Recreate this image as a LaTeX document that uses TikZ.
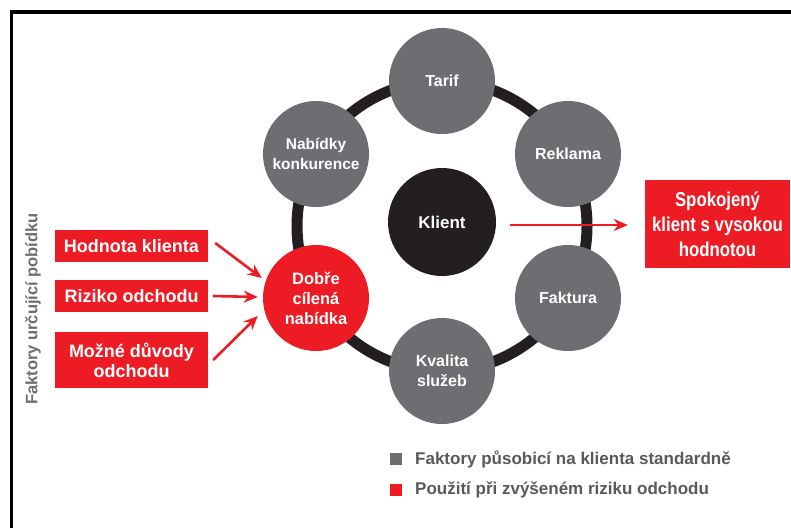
\documentclass[tikz,border=0pt]{standalone}
\usepackage{fontspec}
\setmainfont{Liberation Sans}
\newfontfamily\narrowfont{Liberation Sans}[FakeStretch=0.84]
\usetikzlibrary{arrows.meta}
\definecolor{cgray}{HTML}{6D6E71}
\definecolor{cred}{HTML}{ED1C24}
\definecolor{cblack}{HTML}{231F20}
\definecolor{ctext}{HTML}{58595B}
\tikzset{
  factor/.style={circle, fill=cgray, minimum size=106pt, inner sep=0pt, text=white,
    font=\bfseries\fontsize{16}{20}\selectfont, align=center},
  redbox/.style={rectangle, fill=cred, inner sep=0pt, text=white,
    font=\bfseries\fontsize{18}{20}\selectfont, align=center, minimum width=153pt},
  arr/.style={draw=cred, line width=2.6pt, -{Stealth[length=14pt,width=12pt]}},
  legsq/.style={rectangle, inner sep=0pt, minimum size=12pt},
  legtxt/.style={anchor=west, text=ctext, font=\bfseries\fontsize{17}{18}\selectfont, inner sep=0pt}
}
\begin{document}
\begin{tikzpicture}[x=1pt,y=-1pt]
\useasboundingbox (0,0) rectangle (791,528);
\fill[white] (0,0) rectangle (791,528);
% frame
\draw[line width=3.2pt, black] (11.5,528) -- (11.5,12) -- (791,12);
% ring
\coordinate (rc) at (442,226);
\draw[cblack, line width=11pt] (rc) circle[radius=145];
% circles
\node[factor] (tar) at (442,81) {Tarif};
\node[factor] (rek) at (568,154) {Reklama};
\node[factor] (fak) at (568,298) {Faktura};
\node[factor] (kva) at (442,371) {Kvalita\\služeb};
\node[factor, fill=cred, font=\bfseries\fontsize{16.5}{20}\selectfont] (dob) at (316,298) {Dobře\\cílená\\nabídka};
\node[factor, font=\bfseries\fontsize{15.5}{20}\selectfont] (nab) at (316,154) {Nabídky\\konkurence};
\node[factor, fill=cblack, minimum size=108pt, font=\bfseries\fontsize{17}{20}\selectfont] (kli) at (442,222) {Klient};
% left boxes
\node[redbox, minimum height=32pt] (hod) at (131.5,246) {Hodnota klienta};
\node[redbox, minimum height=32pt] (riz) at (131.5,296) {Riziko odchodu};
\node[redbox, minimum height=56pt] (moz) at (131.5,360) {Možné důvody\\odchodu};
% right box
\node[redbox, minimum width=145pt, minimum height=88pt, font=\narrowfont\bfseries\fontsize{20}{25}\selectfont] (spo) at (717.5,224) {Spokojený\\klient s vysokou\\hodnotou};
% arrows
\draw[arr] ([shift={(7,-3)}]hod.east) -- ([shift={(-1,-20)}]dob.west);
\draw[arr] ([shift={(5,0)}]riz.east) -- ([shift={(-5,-1)}]dob.west);
\draw[arr] ([shift={(5,0)}]moz.east) -- ([shift={(-5,18)}]dob.west);
\draw[arr] ([shift={(14,3)}]kli.east) -- ([shift={(-17,1)}]spo.west);
% vertical label
\node[rotate=90, text=cgray, font=\bfseries\fontsize{16.5}{18}\selectfont] (vl) at (33,309) {Faktory určující pobídku};
% legend
\node[legsq, fill=cgray] (lg1) at (396,459) {};
\node[legtxt] (lt1) at (415,459) {Faktory působicí na klienta standardně};
\node[legsq, fill=cred] (lg2) at (396,489.5) {};
\node[legtxt] (lt2) at (415,489.5) {Použití při zvýšeném riziku odchodu};
\end{tikzpicture}
\end{document}
